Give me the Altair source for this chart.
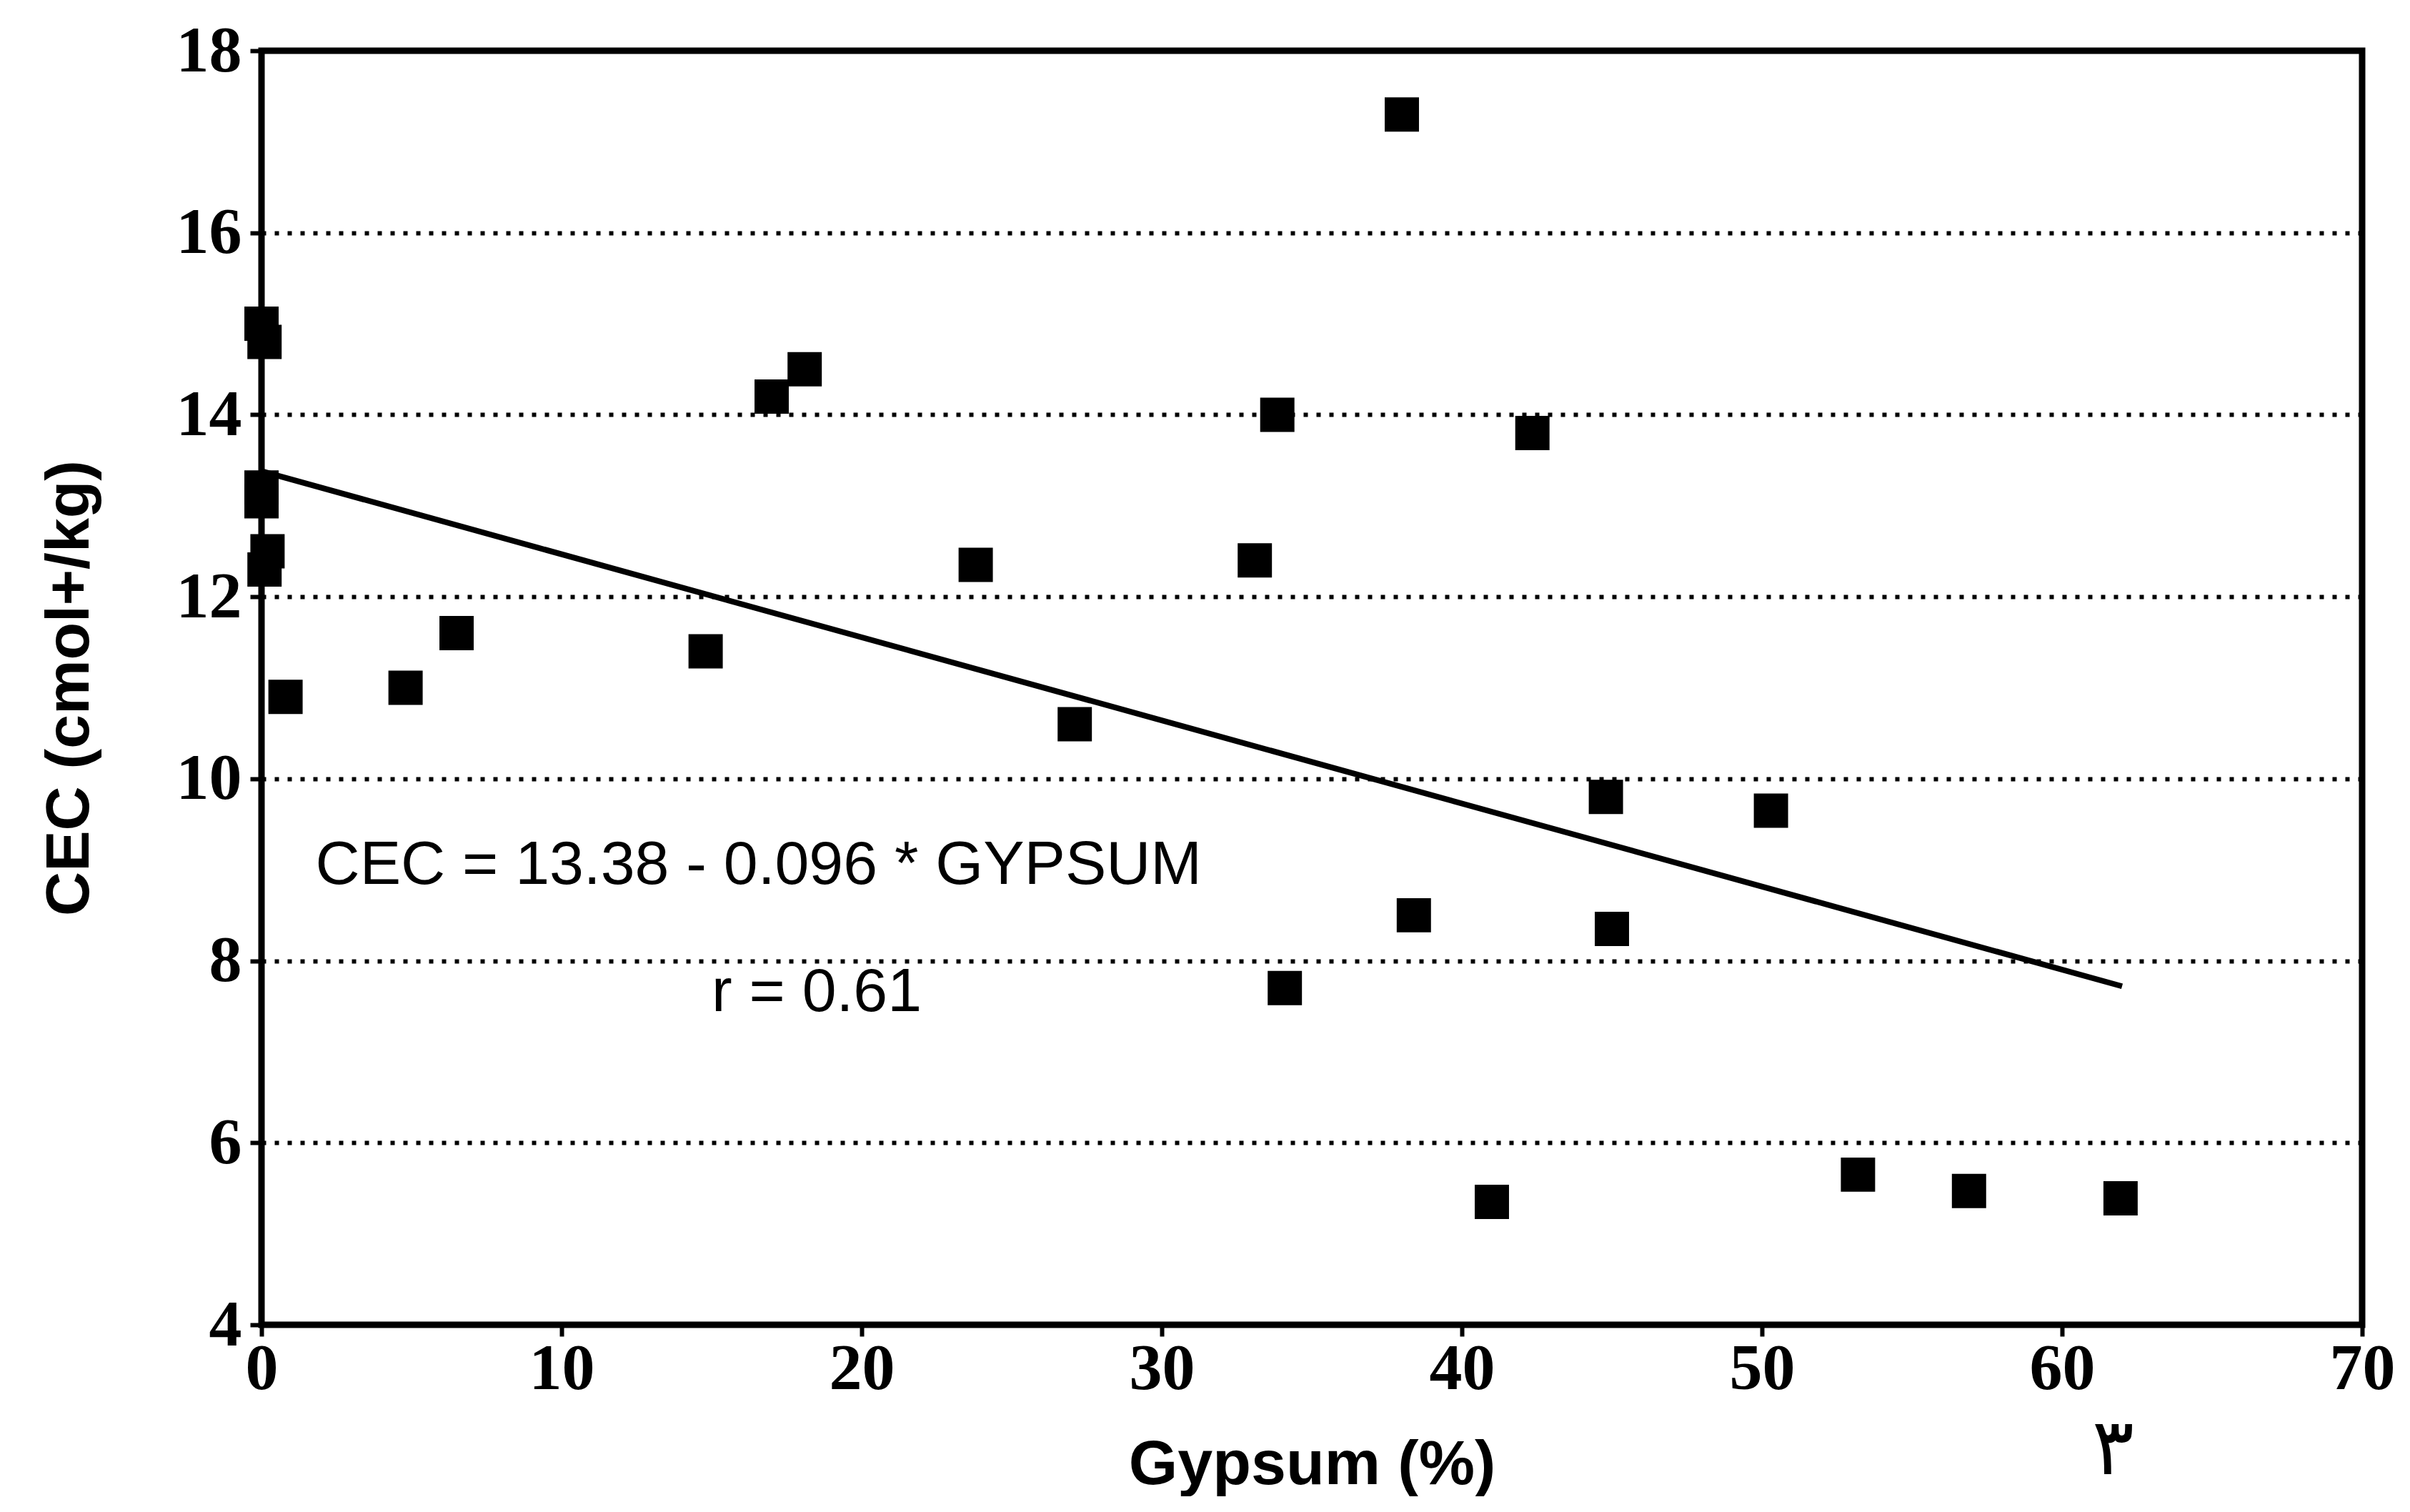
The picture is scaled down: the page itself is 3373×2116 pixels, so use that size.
import altair as alt
import pandas as pd

# Data
gypsum = [0.0, 0.1, 0.0, 0.0, 0.2, 0.1, 0.8, 4.8, 6.5, 14.8, 17.0, 18.1, 23.8, 27.1,
          33.1, 33.85, 38.0, 34.1, 38.4, 42.35, 44.8, 45.0, 50.3, 41.0, 53.2, 56.9, 61.95]
cec = [15.0, 14.8, 13.2, 13.05, 12.5, 12.3, 10.9, 11.0, 11.6, 11.4, 14.2, 14.5, 12.35, 10.6,
       12.4, 14.0, 17.3, 7.7, 8.5, 13.8, 9.8, 8.35, 9.65, 5.35, 5.65, 5.47, 5.39]

fit_x = [0, 62]
fit_y = [13.38, 7.72]

x_ticks = [0, 10, 20, 30, 40, 50, 60, 70]
y_ticks = [4, 6, 8, 10, 12, 14, 16, 18]

ann_text = ["CEC = 13.38 - 0.096 * GYPSUM", "r = 0.61", "٣"]
ann_x = [1.8, 15.0, 61.0]
ann_y = [9.05, 7.65, 2.62]
ann_size = [86, 86, 110]

pts = pd.DataFrame({"g": gypsum, "c": cec})
fit = pd.DataFrame({"g": fit_x, "c": fit_y})
ann = pd.DataFrame({"t": ann_text, "g": ann_x, "c": ann_y, "s": ann_size})

NUM_FONT = "Liberation Serif, serif"
TXT_FONT = "Liberation Sans, DejaVu Sans, sans-serif"

xscale = alt.Scale(domain=[0, 70], nice=False, zero=False)
yscale = alt.Scale(domain=[4, 18], nice=False, zero=False)

xaxis = alt.Axis(
    title="Gypsum (%)", values=x_ticks, format="d", grid=False, domain=False,
    tickColor="black", tickWidth=6, tickSize=16,
    labelFont=NUM_FONT, labelFontSize=92, labelFontWeight="bold", labelColor="black",
    labelPadding=0, labelFlush=False,
    titleFont=TXT_FONT, titleFontSize=88, titleFontWeight="bold", titleColor="black",
    titleY=196, titleBaseline="middle",
)
yaxis = alt.Axis(
    title="CEC (cmol+/kg)", values=y_ticks, format="d", domain=False,
    grid=True, gridColor="black", gridDash=[6, 12], gridWidth=6,
    tickColor="black", tickWidth=6, tickSize=16,
    labelFont=NUM_FONT, labelFontSize=92, labelFontWeight="bold", labelColor="black",
    labelPadding=12, labelFlush=False,
    titleFont=TXT_FONT, titleFontSize=86, titleFontWeight="bold", titleColor="black",
    titleX=-269, titleBaseline="middle",
)

base_x = alt.X("g:Q", scale=xscale, axis=xaxis)
base_y = alt.Y("c:Q", scale=yscale, axis=yaxis)

points = alt.Chart(pts).mark_square(size=2300, color="black", opacity=1).encode(x=base_x, y=base_y)

line = alt.Chart(fit).mark_line(color="black", strokeWidth=8).encode(
    x=alt.X("g:Q", scale=xscale), y=alt.Y("c:Q", scale=yscale)
)

text = alt.Chart(ann).mark_text(
    align="left", baseline="middle", font=TXT_FONT, color="black"
).encode(
    x=alt.X("g:Q", scale=xscale), y=alt.Y("c:Q", scale=yscale), text="t:N",
    size=alt.Size("s:Q", scale=None, legend=None),
)

chart = alt.layer(points, line, text).properties(
    width=2940, height=1783,
    background="white",
    autosize=alt.AutoSizeParams(type="none"),
    padding={"left": 358, "top": 63, "right": 50, "bottom": 240},
).configure_view(stroke="black", strokeWidth=9)

chart.save("out.html", embed_options={"renderer": "svg", "actions": False})
